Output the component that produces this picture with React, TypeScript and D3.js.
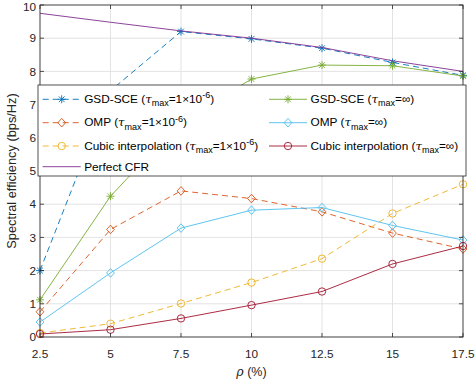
import React from 'react';
import * as d3 from 'd3';

// sampling ratio (%)
const rho = [2.5, 5, 7.5, 10, 12.5, 15, 17.5];

// spectral efficiency (bps/Hz)
const gsdSce6 = [2.0, 7.42, 9.2, 8.98, 8.7, 8.27, 7.88];
const gsdSceInf = [1.12, 4.24, 6.5, 7.77, 8.19, 8.17, 7.86];
const omp6 = [0.76, 3.24, 4.4, 4.17, 3.77, 3.13, 2.65];
const ompInf = [0.45, 1.93, 3.28, 3.82, 3.9, 3.36, 2.92];
const cubic6 = [0.12, 0.4, 1.01, 1.64, 2.36, 3.72, 4.6];
const cubicInf = [0.09, 0.22, 0.56, 0.96, 1.37, 2.2, 2.74];
const perfect = [9.75, 9.48, 9.22, 9.0, 8.72, 8.32, 8.0];

const yTicks = [0, 1, 2, 3, 4, 5, 6, 7, 8, 9, 10];

type Marker = 'star' | 'diamond' | 'circle' | 'none';

const series = [
  { name: 'GSD-SCE', tau: '6', values: gsdSce6, color: '#0072BD', dash: true, marker: 'star' as Marker },
  { name: 'GSD-SCE', tau: 'inf', values: gsdSceInf, color: '#77AC30', dash: false, marker: 'star' as Marker },
  { name: 'OMP', tau: '6', values: omp6, color: '#D95319', dash: true, marker: 'diamond' as Marker },
  { name: 'OMP', tau: 'inf', values: ompInf, color: '#4DBEEE', dash: false, marker: 'diamond' as Marker },
  { name: 'Cubic interpolation', tau: '6', values: cubic6, color: '#EDB120', dash: true, marker: 'circle' as Marker },
  { name: 'Cubic interpolation', tau: 'inf', values: cubicInf, color: '#A2142F', dash: false, marker: 'circle' as Marker },
  { name: 'Perfect CFR', tau: '', values: perfect, color: '#7E2F8E', dash: false, marker: 'none' as Marker },
];

const W = 476;
const H = 380;
const left = 40, right = 463, top = 5, bottom = 337;
const ink = '#262626';
const font = '"Liberation Sans", Arial, Helvetica, sans-serif';
const lw = 0.9;

const x = d3.scaleLinear().domain([2.5, 17.5]).range([left, right]);
const y = d3.scaleLinear().domain([0, 10]).range([bottom, top]);

const MarkerShape = ({ type, cx, cy, color }: { type: Marker; cx: number; cy: number; color: string }) => {
  if (type === 'star') {
    const r = 4;
    const d = r * 0.72;
    return (
      <path
        d={`M${cx - r},${cy}H${cx + r}M${cx},${cy - r}V${cy + r}M${cx - d},${cy - d}L${cx + d},${cy + d}M${cx - d},${cy + d}L${cx + d},${cy - d}`}
        stroke={color}
        strokeWidth={lw}
        fill="none"
      />
    );
  }
  if (type === 'diamond') {
    const r = 4.3;
    return (
      <path
        d={`M${cx},${cy - r}L${cx + r * 0.9},${cy}L${cx},${cy + r}L${cx - r * 0.9},${cy}Z`}
        stroke={color}
        strokeWidth={lw}
        fill="none"
      />
    );
  }
  if (type === 'circle') {
    return <circle cx={cx} cy={cy} r={3.7} stroke={color} strokeWidth={lw} fill="none" />;
  }
  return null;
};

const Label = ({ name, tau, x0, y0 }: { name: string; tau: string; x0: number; y0: number }) => {
  const fs = 11.8;
  if (!tau) {
    return (
      <text x={x0} y={y0} dy="0.35em" fontSize={fs} fill="#000" fontFamily={font}>
        {name}
      </text>
    );
  }
  return (
    <text x={x0} y={y0} dy="0.3em" fontSize={fs} fill="#000" fontFamily={font}>
      {name} (
      <tspan fontStyle="italic" fontFamily='"DejaVu Serif", serif'>τ</tspan>
      <tspan fontSize={9} dy={3.5}>max</tspan>
      {tau === 'inf' ? (
        <tspan dy={-3.5}>=∞)</tspan>
      ) : (
        <>
          <tspan dy={-3.5}>=1×10</tspan>
          <tspan fontSize={9} dy={-4.5}>-6</tspan>
          <tspan dy={4.5}>)</tspan>
        </>
      )}
    </text>
  );
};

const App = () => {
  const line = d3
    .line<number>()
    .x((_, i) => x(rho[i]))
    .y((d) => y(d));

  // legend layout: order follows MATLAB column filling
  const legendRows = [99.3, 122.7, 146, 166.7];
  const legendItems = [
    { s: series[0], col: 0, row: 0 },
    { s: series[2], col: 0, row: 1 },
    { s: series[4], col: 0, row: 2 },
    { s: series[6], col: 0, row: 3 },
    { s: series[1], col: 1, row: 0 },
    { s: series[3], col: 1, row: 1 },
    { s: series[5], col: 1, row: 2 },
  ];
  const colX = [42.7, 269];

  return (
    <svg width={W} height={H} style={{ position: 'absolute', left: 0, top: 0, background: '#fff' }}>
      <rect x={0} y={0} width={W} height={H} fill="#fff" />
      {/* grid */}
      {rho.map((t) => (
        <line key={'gx' + t} x1={x(t)} x2={x(t)} y1={top} y2={bottom} stroke="#e3e3e3" strokeWidth={1} />
      ))}
      {yTicks.map((t) => (
        <line key={'gy' + t} x1={left} x2={right} y1={y(t)} y2={y(t)} stroke="#e3e3e3" strokeWidth={1} />
      ))}

      {/* series */}
      {series.map((s, si) => (
        <g key={si}>
          <path
            d={line(s.values) || ''}
            fill="none"
            stroke={s.color}
            strokeWidth={lw}
            strokeDasharray={s.dash ? '6,4' : undefined}
          />
          {s.values.map((v, i) => (
            <MarkerShape key={i} type={s.marker} cx={x(rho[i])} cy={y(v)} color={s.color} />
          ))}
        </g>
      ))}

      {/* axes box */}
      <rect x={left} y={top} width={right - left} height={bottom - top} fill="none" stroke={ink} strokeWidth={0.8} />
      {rho.map((t) => (
        <g key={'tx' + t}>
          <line x1={x(t)} x2={x(t)} y1={bottom} y2={bottom - 4} stroke={ink} strokeWidth={0.8} />
          <line x1={x(t)} x2={x(t)} y1={top} y2={top + 4} stroke={ink} strokeWidth={0.8} />
          <text x={x(t)} y={354} textAnchor="middle" dy="0.35em" fontSize={11.8} fill={ink} fontFamily={font}>
            {t}
          </text>
        </g>
      ))}
      {yTicks.map((t) => (
        <g key={'ty' + t}>
          <line x1={left} x2={left + 4} y1={y(t)} y2={y(t)} stroke={ink} strokeWidth={0.8} />
          <line x1={right} x2={right - 4} y1={y(t)} y2={y(t)} stroke={ink} strokeWidth={0.8} />
          <text
            x={left - 4}
            y={Math.max(y(t), 7)}
            textAnchor="end"
            dy="0.35em"
            fontSize={11.8}
            fill={ink}
            fontFamily={font}
          >
            {t}
          </text>
        </g>
      ))}

      {/* axis labels */}
      <text x={(left + right) / 2} y={372} textAnchor="middle" dy="0.35em" fontSize={12.5} fill={ink} fontFamily={font}>
        <tspan fontStyle="italic" fontFamily='"DejaVu Serif", serif'>ρ</tspan> (%)
      </text>
      <text
        transform={`translate(12,${(top + bottom) / 2}) rotate(-90)`}
        textAnchor="middle"
        dy="0.35em"
        fontSize={12.8}
        fill={ink}
        fontFamily={font}
      >
        Spectral efficiency (bps/Hz)
      </text>

      {/* legend */}
      <rect x={38} y={85} width={428} height={91} fill="#fff" stroke={ink} strokeWidth={0.8} />
      {legendItems.map(({ s, col, row }, i) => {
        const lx = colX[col];
        const ly = legendRows[row];
        return (
          <g key={'lg' + i}>
            <line
              x1={lx}
              x2={lx + 38}
              y1={ly}
              y2={ly}
              stroke={s.color}
              strokeWidth={lw}
              strokeDasharray={s.dash ? '6,4' : undefined}
            />
            <MarkerShape type={s.marker} cx={lx + 19} cy={ly} color={s.color} />
            <Label name={s.name} tau={s.tau} x0={lx + 41.5} y0={ly} />
          </g>
        );
      })}
    </svg>
  );
};

export default App;
